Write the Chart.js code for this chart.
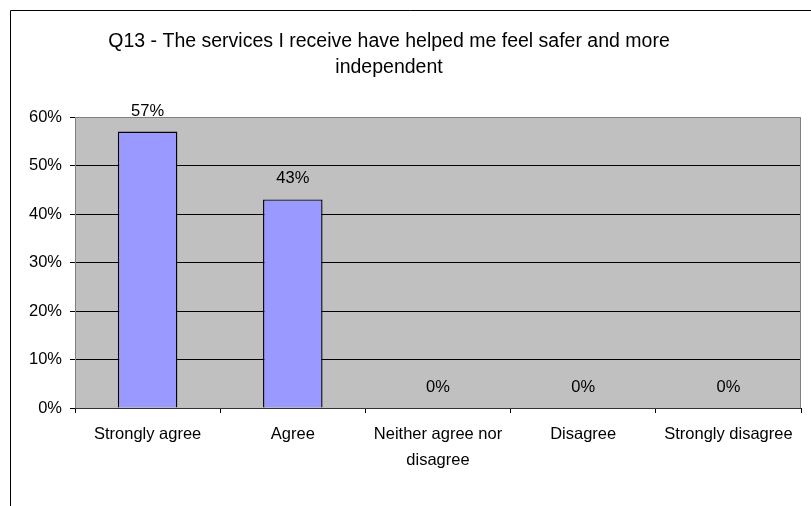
<!DOCTYPE html>
<html>
<head>
<meta charset="utf-8">
<script src="https://cdn.jsdelivr.net/npm/chart.js@4/dist/chart.umd.min.js"></script>
<style>
  html, body { margin: 0; padding: 0; background: #fff; }
  #wrap { width: 811px; height: 506px; }
</style>
</head>
<body>
<div id="wrap"><canvas id="surveyChart"></canvas></div>
<script>
const titleLines = ['Q13 - The services I receive have helped me feel safer and more', 'independent'];
const categories = ['Strongly agree', 'Agree', ['Neither agree nor', 'disagree'], 'Disagree', 'Strongly disagree'];
const percentValues = [57, 43, 0, 0, 0];
const yTicks = [0, 10, 20, 30, 40, 50, 60];

const FONT = '"Liberation Sans", Arial, sans-serif';

// grey plot background, outer frame and title
const frame = {
  id: 'frame',
  beforeDraw(chart) {
    const { ctx, chartArea: a } = chart;
    ctx.save();
    ctx.fillStyle = '#c0c0c0';
    ctx.fillRect(a.left, a.top, a.right - a.left, a.bottom - a.top);
    ctx.strokeStyle = '#000';
    ctx.lineWidth = 1;
    ctx.beginPath();
    ctx.moveTo(10.5, chart.height);
    ctx.lineTo(10.5, 10.5);
    ctx.lineTo(chart.width, 10.5);
    ctx.stroke();
    ctx.fillStyle = '#000';
    ctx.font = '19.5px ' + FONT;
    ctx.textAlign = 'center';
    ctx.textBaseline = 'alphabetic';
    titleLines.forEach((t, i) => ctx.fillText(t, 389, 47 + i * 26));
    ctx.restore();
  },
  afterDraw(chart) {
    const { ctx, chartArea: a } = chart;
    ctx.save();
    ctx.strokeStyle = '#808080';
    ctx.lineWidth = 1;
    ctx.beginPath();
    ctx.moveTo(a.left + 0.5, a.bottom);
    ctx.lineTo(a.left + 0.5, a.top + 0.5);
    ctx.lineTo(a.right - 0.5, a.top + 0.5);
    ctx.lineTo(a.right - 0.5, a.bottom);
    ctx.stroke();
    ctx.strokeStyle = '#333';
    ctx.beginPath();
    ctx.moveTo(a.left, a.bottom + 0.5);
    ctx.lineTo(a.right, a.bottom + 0.5);
    ctx.stroke();
    ctx.restore();
  }
};

// percentage labels above the bars
const valueLabels = {
  id: 'valueLabels',
  afterDatasetsDraw(chart) {
    const { ctx } = chart;
    const meta = chart.getDatasetMeta(0);
    ctx.save();
    ctx.fillStyle = '#000';
    ctx.font = '16.5px ' + FONT;
    ctx.textAlign = 'center';
    ctx.textBaseline = 'alphabetic';
    meta.data.forEach((bar, i) => {
      ctx.fillText(percentValues[i] + '%', bar.x, bar.y - 16);
    });
    ctx.restore();
  }
};

const ctx = document.getElementById('surveyChart').getContext('2d');
const chart = new Chart(ctx, {
  type: 'bar',
  data: {
    labels: categories,
    datasets: [{
      data: percentValues,
      backgroundColor: '#9999ff',
      borderColor: '#000',
      borderWidth: 1.4,
      borderSkipped: 'bottom',
      barPercentage: 0.41,
      categoryPercentage: 1
    }]
  },
  options: {
    responsive: true,
    maintainAspectRatio: false,
    animation: false,
    layout: { padding: { top: 117, right: 10, left: 0, bottom: 0 } },
    plugins: {
      legend: { display: false },
      title: { display: false },
      tooltip: { enabled: false }
    },
    scales: {
      x: {
        afterFit(scale) { scale.height = 98; },
        grid: {
          drawOnChartArea: false,
          drawTicks: true,
          tickLength: 5,
          color: '#000',
          offset: true
        },
        border: { display: false },
        ticks: {
          color: '#000',
          font: { family: FONT, size: 16.5, lineHeight: 1.6 },
          padding: 8,
          maxRotation: 0,
          autoSkip: false
        }
      },
      y: {
        min: 0,
        max: 60,
        afterFit(scale) { scale.width = 75; },
        afterBuildTicks(scale) { scale.ticks = yTicks.map(v => ({ value: v })); },
        grid: {
          color: (c) => (c.tick && (c.tick.value === 0 || c.tick.value === 60)) ? 'rgba(0,0,0,0)' : '#000',
          drawTicks: true,
          tickLength: 5,
          tickColor: '#000'
        },
        border: { display: false },
        ticks: {
          color: '#000',
          font: { family: FONT, size: 16.5 },
          padding: 8,
          callback: (v) => v + '%'
        }
      }
    }
  },
  plugins: [frame, valueLabels]
});
</script>
</body>
</html>
